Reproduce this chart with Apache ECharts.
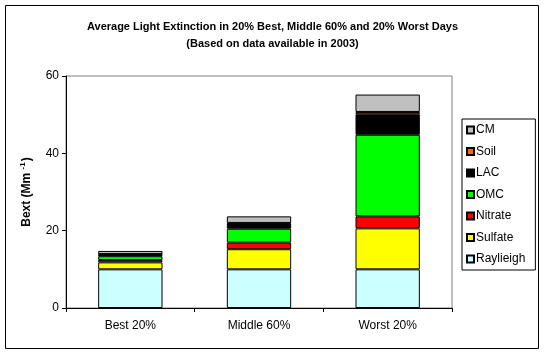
<!DOCTYPE html>
<html>
<head>
<meta charset="utf-8">
<script src="https://cdn.jsdelivr.net/npm/echarts@6/dist/echarts.min.js"></script>
<style>html,body{margin:0;padding:0;background:#fff;}#c{width:545px;height:355px;}</style>
</head>
<body>
<div id="c"></div>
<script>
var categories = ['Best 20%', 'Middle 60%', 'Worst 20%'];
var seriesNames = ['Raylieigh', 'Sulfate', 'Nitrate', 'OMC', 'LAC', 'Soil', 'CM'];
var raylieigh = [10, 10, 10];
var sulfate = [1.8, 5.2, 10.6];
var nitrate = [0.6, 1.7, 3.1];
var omc = [1.0, 3.6, 21.1];
var lac = [0.45, 1.4, 5.3];
var soil = [0.1, 0.1, 0.6];
var cm = [0.8, 1.7, 4.5];
var seriesValues = [raylieigh, sulfate, nitrate, omc, lac, soil, cm];
var colors = ['#CCFFFF', '#FFFF00', '#FF0000', '#00FF00', '#000000', '#FF6600', '#C0C0C0'];
var yTicks = [0, 20, 40, 60];

var FONT = 'Liberation Sans, Arial, sans-serif';
var chart = echarts.init(document.getElementById('c'), null, {renderer: 'canvas'});
var series = seriesNames.map(function (n, i) {
  return {
    name: n, type: 'bar', stack: 'total', barWidth: '50%',
    data: seriesValues[i],
    itemStyle: {color: colors[i], borderColor: '#000', borderWidth: 1},
    emphasis: {disabled: true}
  };
});
chart.setOption({
  animation: false,
  textStyle: {fontFamily: FONT},
  title: {
    text: 'Average Light Extinction in 20% Best, Middle 60% and 20% Worst Days\n(Based on data available in 2003)',
    left: 'center', top: 13,
    textStyle: {fontSize: 11, fontWeight: 'bold', color: '#000', lineHeight: 17, fontFamily: FONT}
  },
  grid: {left: 66, right: 93, top: 76, bottom: 47, show: true, borderColor: '#808080', borderWidth: 1, backgroundColor: 'transparent'},
  legend: {
    orient: 'vertical', left: 462, top: 119,
    data: seriesNames.slice().reverse(),
    itemWidth: 7, itemHeight: 7, itemGap: 9.5,
    padding: [5, 10, 5, 4],
    borderColor: '#000', borderWidth: 1, backgroundColor: '#fff',
    selectedMode: false,
    icon: 'rect',
    textStyle: {fontSize: 12, color: '#000', fontFamily: FONT, padding: [0, 0, 0, -3]}
  },
  xAxis: {
    type: 'category', data: categories,
    axisLine: {lineStyle: {color: '#000', width: 1}},
    axisTick: {show: true, length: 4, lineStyle: {color: '#000'}},
    axisLabel: {fontSize: 12, color: '#000', margin: 12, fontFamily: FONT}
  },
  yAxis: {
    type: 'value', min: yTicks[0], max: yTicks[yTicks.length - 1], interval: 20,
    name: '{a|Bext (Mm }{s|-1}{a|)}',
    nameLocation: 'middle', nameRotate: 90, nameGap: 32,
    nameTextStyle: {
      rich: {
        a: {fontSize: 12, fontWeight: 'bold', color: '#000', fontFamily: FONT},
        s: {fontSize: 8, fontWeight: 'bold', color: '#000', fontFamily: FONT, padding: [0, 1, 7, 0]}
      }
    },
    axisLine: {show: true, lineStyle: {color: '#000', width: 1}},
    axisTick: {show: true, length: 4, lineStyle: {color: '#000'}},
    splitLine: {show: false},
    axisLabel: {fontSize: 12, color: '#000', margin: 7, fontFamily: FONT}
  },
  graphic: [{
    type: 'rect', z: -10, silent: true,
    shape: {x: 5.5, y: 5.5, width: 533, height: 343},
    style: {fill: 'none', stroke: '#000', lineWidth: 1}
  }],
  series: series
});
</script>
</body>
</html>
